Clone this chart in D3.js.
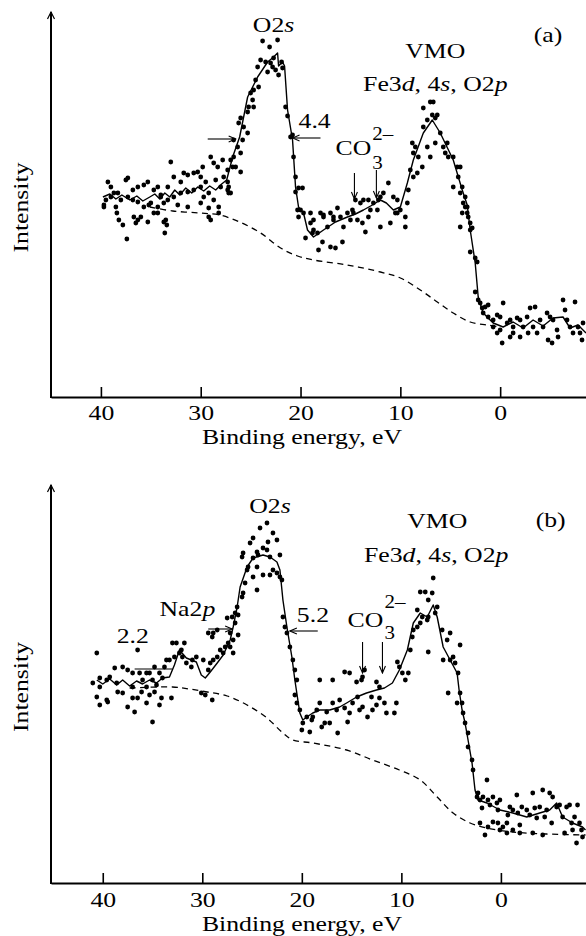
<!DOCTYPE html>
<html>
<head>
<meta charset="utf-8">
<script src="https://cdn.jsdelivr.net/npm/d3@7"></script>
<style>
  body { margin: 0; background: #fff; }
  svg text { font-family: "Liberation Serif", "Times New Roman", serif; fill: #000; }
</style>
</head>
<body>
<svg id="chart" width="586" height="936"></svg>
<script>
// ---- data: binding energy (eV), intensity (arb. units) ----
const energyTicks = [40, 30, 20, 10, 0];

// panel (a)
const fitA = [[39.8,200],[39.1,203],[38.5,198],[37.9,202],[37.1,197],[36.4,201],[35.8,196],[35.1,200],[34.6,203],[34.1,198],[33.6,204],[33.1,200],[32.6,207],[32.1,202],[31.5,209],[30.9,204],[30.3,210],[29.7,206],[29.1,211],[28.5,207],[27.9,213],[27.4,217],[26.8,240],[26.1,260],[25.3,300],[24.3,320],[23.3,335],[22.7,340],[22.3,344],[22.2,331],[21.8,335],[21.6,331],[21.3,287],[20.8,257],[20.5,210],[20.2,190],[19.7,184],[19.3,167],[18.7,160],[17.7,167],[16.5,175],[15.3,180],[14.5,183],[13.7,187],[12.8,192],[12.0,197],[11.4,194],[10.7,187],[10.0,190],[9.3,214],[8.7,237],[7.7,264],[6.8,277],[6.0,264],[4.7,237],[3.8,207],[3.3,192],[3.0,167],[2.5,134],[2.2,100],[1.7,84],[0.7,74],[-0.3,70],[-1.3,75],[-2.3,69],[-3.3,77],[-4.3,71],[-5.3,79],[-6.3,80],[-7.0,69],[-7.8,72],[-8.6,64]];

const backgroundA = [[35.1,190],[32.8,186],[30.1,184],[28.1,182],[26.1,175],[24.0,164],[22.0,149],[20.3,141],[18.7,137],[15.3,132],[12.0,125],[10.0,119],[8.0,107],[6.3,95],[4.7,84],[3.0,75],[1.3,72],[0.0,70]];

const pointsA = [
[23.8,356],[23.1,350],[22.3,357],[24.0,337],[23.5,335],[23.0,334],[23.3,325],[22.8,330],[22.5,327],[22.2,322],[21.8,329],[21.9,335],[22.7,339],[24.3,330],[24.5,317],[24.2,310],[24.7,307],[25.0,304],[24.8,297],[25.2,290],[25.3,285],[24.7,290],
[26.0,279],[26.2,274],[25.7,270],[25.3,264],[26.7,257],[26.3,250],[26.7,240],[27.0,237],[25.8,257],[26.0,244],[26.5,230],[26.8,230],[27.3,227],[27.7,220],[27.3,215],[27.0,204],[26.0,225],[27.2,210],[28.0,210],[28.7,234],[29.0,240],[29.8,230],[28.3,230],[27.8,237],[28.5,217],[29.2,204],[29.7,200],[28.7,197],
[39.3,215],[39.0,210],[38.7,204],[37.5,217],[37.3,219],[36.8,207],[36.3,210],[35.7,212],[35.3,215],[34.7,207],[34.3,210],[34.0,202],[33.3,210],[33.0,235],[32.7,220],[32.0,215],[31.7,224],[31.3,222],[30.7,224],[30.3,225],[30.0,220],[29.5,215],[30.0,210],[30.7,207],[31.3,205],[32.0,204],[32.7,200],[33.3,197],[33.7,194],[34.3,190],[35.0,194],[35.7,190],[36.3,195],[36.8,197],[37.3,200],[38.0,197],[38.3,204],[39.0,200],[39.5,197],[39.7,192],[38.5,190],[36.7,180],[36.3,177],[35.2,192],[34.7,184],[33.5,177],[30.0,194],[29.2,189],[28.2,184],[38.2,177],[34.0,200],
[39.7,190],[38.4,184],[37.8,172],[37.4,158],[36.5,174],[36.0,180],[35.3,175],[33.7,175],[33.4,172],[33.6,164],[34.3,184],[32.3,192],[31.3,190],[29.2,180],[29.0,177],[28.2,190],[27.3,207],[27.2,204],
[21.5,290],[21.3,281],[21.0,260],[20.8,262],[20.7,240],[20.5,220],[20.2,209],[19.8,209],[20.5,205],[20.3,187],[20.2,180],[20.0,187],[19.7,184],[19.0,184],[18.7,177],[18.0,184],[17.7,180],[17.0,184],[16.7,180],[16.0,180],[15.3,184],[14.8,187],[14.5,197],[14.0,194],[13.7,197],[13.2,197],[12.7,194],[12.2,197],[12.0,200],[11.7,204],[11.2,214],[10.7,200],[10.3,197],[10.3,184],[9.3,194],[9.5,180],
[9.0,227],[8.7,220],[8.3,224],[8.5,250],[8.7,244],[8.8,254],[8.2,240],[7.8,230],[7.0,240],[7.3,250],[7.7,270],[7.3,277],[6.8,282],[6.5,279],[6.3,282],[7.7,289],[7.0,295],[6.7,295],[6.5,254],[6.0,264],[5.7,250],[5.5,244],[5.3,254],[5.2,240],[4.7,240],[4.3,230],[4.0,230],[4.2,220],[3.8,210],[3.5,200],[3.7,194],[3.3,190],[3.2,180],[3.0,174],
[4.7,210],[4.0,204],[3.5,190],[3.8,184],[3.3,184],[4.0,170],[3.0,167],[2.8,169],[3.0,145],[2.5,139],[2.3,135],[2.5,105],[2.2,97],[2.0,94],[1.8,89],[1.5,90],[1.2,92],[1.7,84],[1.2,80],[0.7,77],[0.3,82],[0.0,80],[-0.3,94],[0.7,70],[0.3,64],[0.0,67],[-0.2,54],[-0.7,74],[-1.0,77],[-1.3,70],[-1.7,79],[-2.0,77],[-2.3,70],[-2.7,80],[-3.0,89],[-3.5,90],[-3.3,70],[-3.7,64],[-4.0,77],[-4.3,70],[-4.7,84],[-5.0,80],[-5.3,77],[-5.7,67],[-5.8,60],[-6.3,97],[-6.5,87],[-6.7,77],[-7.0,70],[-7.5,95],[-7.3,64],[-7.8,70],[-8.0,64],[-8.2,57],[-8.3,74],[-1.3,64],[-2.0,60],[-1.0,60],[-2.8,64],[-4.8,57],[-5.2,54],
[19.5,159],[19.0,174],[18.8,164],[18.7,167],[18.3,164],[18.2,147],[17.7,182],[17.8,155],[17.3,170],[17.0,150],[16.7,177],[16.5,149],[16.3,189],[15.8,155],[15.7,170],[15.0,177],[14.7,184],[14.3,177],[13.8,174],[13.5,165],[13.2,180],[13.0,187],[12.3,187],[12.0,170],[11.0,174],[10.5,184],[10.0,187],[9.5,170],[9.2,207]
];

// panel (b)
const fitB = [[40.6,203],[40.0,199],[39.3,204],[38.6,198],[38.0,203],[37.3,197],[36.6,202],[36.0,199],[35.3,203],[34.6,200],[34.0,205],[33.3,206],[32.8,218],[32.3,233],[31.6,225],[30.6,221],[30.1,208],[29.7,205],[29.2,211],[28.5,220],[27.9,228],[27.2,243],[26.9,256],[26.5,276],[26.2,296],[25.5,316],[24.9,325],[23.9,328],[23.2,326],[22.5,321],[22.2,313],[21.9,283],[21.5,256],[21.0,226],[20.7,203],[20.4,183],[20.2,170],[19.9,163],[19.5,166],[18.9,170],[18.2,173],[17.2,173],[16.2,176],[15.5,180],[14.5,186],[13.5,190],[12.5,193],[11.7,195],[10.9,200],[10.2,213],[9.4,233],[8.8,260],[8.1,270],[7.4,266],[6.8,278],[6.4,266],[5.8,236],[5.1,223],[4.4,210],[4.2,193],[3.9,173],[3.6,160],[3.3,143],[2.9,120],[2.6,93],[2.3,83],[1.4,80],[0.1,73],[-1.2,70],[-2.6,66],[-3.9,70],[-4.9,73],[-5.6,80],[-6.2,66],[-7.2,60],[-8.2,56],[-8.5,53]];

const backgroundB = [[37.3,195],[33.0,196],[31.3,194],[29.5,191],[27.5,187],[25.5,178],[23.5,165],[21.9,150],[20.9,143],[18.9,140],[15.5,133],[12.9,123],[10.2,113],[8.1,103],[6.4,86],[4.8,70],[3.1,60],[1.4,55],[-1.2,51],[-4.6,49],[-8.5,48]];

const pointsB = [
[23.5,360],[24.2,355],[22.9,350],[24.9,345],[23.4,341],[22.5,343],[25.2,340],[23.9,335],[24.5,331],[23.5,333],[24.4,328],[25.9,330],[26.0,326],[24.9,325],[23.2,326],[22.2,328],[25.4,316],[24.5,316],[25.5,313],[23.9,308],[23.2,308],[22.9,313],[22.5,310],[22.2,306],[22.0,303],[24.5,293],[24.9,306],[25.7,300],[25.9,290],[26.0,286],
[26.5,276],[26.7,270],[26.4,268],[27.0,266],[26.7,260],[27.5,265],[27.2,250],[26.4,248],[26.9,243],[27.4,240],[27.7,236],[27.2,236],[26.9,230],[27.9,230],[28.2,233],[28.5,226],[28.9,223],[29.2,220],[29.4,213],[29.9,223],[28.9,250],[28.5,253],[29.4,250],[29.0,246],
[30.6,226],[31.0,223],[31.1,216],[31.6,220],[32.0,226],[32.1,233],[32.3,230],[32.6,240],[31.8,240],[33.0,240],[32.8,226],[33.3,223],[33.6,223],[33.8,216],[34.3,210],[34.8,216],[35.3,210],[35.6,210],[36.0,203],[36.3,210],[37.0,210],[37.5,213],[38.0,216],[38.8,215],[39.3,206],[39.6,203],[40.3,205],[40.6,230],[36.5,233],[35.0,203],[34.0,205],[38.6,200],[37.0,196],[35.6,196],[34.6,198],[40.3,196],[41.0,200],
[21.9,266],[21.7,256],[21.5,250],[21.2,236],[20.9,223],[20.7,213],[20.5,203],
[40.6,186],[40.3,178],[39.6,183],[39.5,181],[38.5,191],[38.0,190],[37.5,176],[37.0,185],[36.8,171],[36.5,185],[36.1,191],[35.6,180],[35.3,188],[35.0,161],[34.8,191],[34.3,178],[34.1,185],[33.1,185],[30.1,190],[29.7,188],[29.0,183],
[18.2,203],[16.9,203],[15.7,211],[15.2,210],[14.5,201],[13.9,206],[13.7,213],[14.0,203],[12.5,201],[12.2,196],[10.4,221],[10.2,216],[9.9,210],[9.6,203],[9.3,210],[9.1,233],[8.9,246],[8.8,253],[8.4,256],[8.1,260],[7.9,266],[7.4,263],[8.1,291],[7.6,291],[7.3,283],[6.9,290],[6.8,305],[6.4,276],[6.6,270],[7.3,231],[5.9,253],[5.4,243],[5.1,250],[5.8,223],[5.1,223],[4.8,226],[4.6,220],[4.1,238],[4.3,210],[7.3,266],[8.4,273],
[20.7,188],[20.5,180],[20.2,173],[19.9,160],[20.0,153],[19.5,166],[19.2,151],[19.0,163],[18.9,166],[18.5,173],[18.2,180],[18.0,156],[17.7,160],[17.5,171],[17.2,160],[16.9,180],[16.5,173],[16.4,150],[16.2,183],[15.7,175],[15.4,161],[15.2,170],[14.9,180],[14.4,186],[14.2,173],[13.9,176],[13.4,166],[13.0,186],[12.9,173],[12.5,178],[12.2,185],[11.5,170],[10.7,170],[10.5,180],[11.7,180],
[5.3,190],[4.1,190],[4.4,180],[3.9,180],[3.8,170],[3.6,160],[3.3,150],[3.3,136],[2.9,123],[2.8,113],[2.4,86],[2.3,90],[2.1,83],[1.9,75],[1.8,86],[1.4,103],[1.3,83],[1.1,78],[0.8,86],[0.4,80],[0.3,73],[0.1,83],[2.1,60],[1.6,48],[1.3,56],[0.8,61],[0.3,60],[0.1,53],[-0.2,56],[-0.6,60],[-0.7,68],[-0.9,76],[-1.2,73],[-1.6,88],[-1.7,70],[-1.9,58],[-2.1,76],[-2.6,73],[-2.9,68],[-3.2,90],[-3.4,75],[-3.6,65],[-3.9,76],[-4.2,93],[-4.4,66],[-4.6,73],[-4.9,90],[-5.1,60],[-5.2,86],[-5.6,76],[-5.9,78],[-6.2,66],[-6.4,50],[-6.6,76],[-6.9,78],[-7.1,60],[-7.2,53],[-7.4,66],[-7.6,40],[-7.7,78],[-7.9,60],[-8.1,53],[-8.2,46],[-1.2,53],[-0.6,50],[-1.9,50],[-3.2,50],[-4.2,48]
];

// annotation texts, arrows and markers, in data coordinates
const labelsA = [
  { e: 22.7, i: 365, anchor: "middle", parts: [["O2"], ["s", "i"]] },
  { e: 6.5, i: 339, anchor: "middle", parts: [["VMO"]] },
  { e: 6.5, i: 306, anchor: "middle", parts: [["Fe3"], ["d", "i"], [", 4"], ["s", "i"], [", O2"], ["p", "i"]] },
  { e: -4.8, i: 355, anchor: "middle", parts: [["(a)"]] },
  { e: 20.2, i: 269, anchor: "start", parts: [["4.4"]] }
];
const arrowsA = [
  { from: [18.0, 259], to: [20.8, 259] },
  { from: [29.3, 258], to: [26.5, 258] },
  { from: [14.6, 224], to: [14.6, 198] },
  { from: [12.4, 227], to: [12.4, 199] }
];
const carbonateA = { e: 16.5, i: 242, subDy: 14, supDy: -15 };
const segmentsA = [];

const labelsB = [
  { e: 23.2, i: 370, anchor: "middle", parts: [["O2"], ["s", "i"]] },
  { e: 6.4, i: 355, anchor: "middle", parts: [["VMO"]] },
  { e: 6.5, i: 321, anchor: "middle", parts: [["Fe3"], ["d", "i"], [", 4"], ["s", "i"], [", O2"], ["p", "i"]] },
  { e: -5.0, i: 356, anchor: "middle", parts: [["(b)"]] },
  { e: 20.5, i: 261, anchor: "start", parts: [["5.2"]] },
  { e: 34.3, i: 267, anchor: "start", parts: [["Na2"], ["p", "i"]] },
  { e: 38.6, i: 240, anchor: "start", parts: [["2.2"]] }
];
const arrowsB = [
  { from: [18.4, 252], to: [21.2, 252] },
  { from: [29.4, 254], to: [27.0, 254] },
  { from: [13.9, 241], to: [13.9, 210] },
  { from: [11.9, 241], to: [11.9, 210] }
];
const carbonateB = { e: 15.4, i: 256, subDy: 12, supDy: -19 };
const segmentsB = [{ from: [36.8, 214], to: [33.0, 214] }];

// ---- drawing ----
const svg = d3.select("#chart");
const FONT = 22;
const STRETCH = 1.17; // typeface is set slightly wide

const defs = svg.append("defs");
defs.append("marker")
  .attr("id", "head")
  .attr("viewBox", "-8 -4 9 8")
  .attr("refX", 0).attr("refY", 0)
  .attr("markerWidth", 9).attr("markerHeight", 8)
  .attr("markerUnits", "userSpaceOnUse")
  .attr("orient", "auto")
  .append("path")
  .attr("d", "M-7,-3L0,0L-7,3")
  .attr("fill", "none").attr("stroke", "#000").attr("stroke-width", 1.1);

function stretchedText(g, x, y, anchor, parts, size) {
  const t = g.append("text")
    .attr("transform", `translate(${x},${y}) scale(${STRETCH},1)`)
    .attr("text-anchor", anchor)
    .attr("font-size", size || FONT);
  parts.forEach(p => {
    t.append("tspan").text(p[0]).attr("font-style", p[1] === "i" ? "italic" : "normal");
  });
  return t;
}

function drawPanel(cfg) {
  const x = d3.scaleLinear().domain(cfg.xDomain).range([51, 586]);
  const y = d3.scaleLinear().domain([0, cfg.yMax]).range([cfg.base, cfg.top]);
  const g = svg.append("g");

  // background (dashed)
  g.append("path")
    .datum(cfg.background)
    .attr("fill", "none").attr("stroke", "#000")
    .attr("stroke-width", 1.3).attr("stroke-dasharray", "6,4.5")
    .attr("d", d3.line().x(d => x(d[0])).y(d => y(d[1])).curve(d3.curveCatmullRom));

  // smoothed spectrum
  g.append("path")
    .datum(cfg.fit)
    .attr("fill", "none").attr("stroke", "#000").attr("stroke-width", 1.4)
    .attr("stroke-linejoin", "round")
    .attr("d", d3.line().x(d => x(d[0])).y(d => y(d[1])));

  // measured points
  g.append("g").selectAll("circle")
    .data(cfg.points)
    .join("circle")
    .attr("cx", d => x(d[0])).attr("cy", d => y(d[1]))
    .attr("r", 2.4).attr("fill", "#000");

  // x axis with inward ticks
  const ax = g.append("g")
    .attr("transform", `translate(0,${cfg.base})`)
    .call(d3.axisBottom(x).tickValues(energyTicks).tickFormat(d3.format("d"))
      .tickSizeInner(-10).tickSizeOuter(0).tickPadding(cfg.tickPad));
  ax.select(".domain").attr("stroke-width", 2);
  ax.selectAll(".tick line").attr("stroke-width", 1.6);
  ax.selectAll(".tick text")
    .attr("font-size", FONT)
    .attr("font-family", null)
    .attr("transform", `scale(${STRETCH},1)`);

  // y axis with arrow
  const yTop = y(cfg.yMax);
  g.append("line")
    .attr("x1", 51).attr("x2", 51)
    .attr("y1", cfg.base + 1).attr("y2", yTop)
    .attr("stroke", "#000").attr("stroke-width", 2);
  g.append("path")
    .attr("d", `M47.5,${yTop + 7}L51,${yTop}L54.5,${yTop + 7}`)
    .attr("fill", "none").attr("stroke", "#000").attr("stroke-width", 1.2);

  // axis titles
  stretchedText(g, 302, cfg.base + cfg.titleOffset, "middle", [["Binding energy, eV"]]);
  g.append("text")
    .attr("transform", `translate(28,${(cfg.base + yTop) / 2 + 3}) rotate(-90) scale(${STRETCH},1)`)
    .attr("text-anchor", "middle")
    .attr("font-size", FONT)
    .text("Intensity");

  // labels
  cfg.labels.forEach(l => stretchedText(g, x(l.e), y(l.i), l.anchor, l.parts));

  // arrows
  cfg.arrows.forEach(a => {
    g.append("line")
      .attr("x1", x(a.from[0])).attr("y1", y(a.from[1]))
      .attr("x2", x(a.to[0])).attr("y2", y(a.to[1]))
      .attr("stroke", "#000").attr("stroke-width", 1.1)
      .attr("marker-end", "url(#head)");
  });
  cfg.segments.forEach(s => {
    g.append("line")
      .attr("x1", x(s.from[0])).attr("y1", y(s.from[1]))
      .attr("x2", x(s.to[0])).attr("y2", y(s.to[1]))
      .attr("stroke", "#000").attr("stroke-width", 1.1);
  });

  // CO3 2- label
  const c = cfg.carbonate;
  const cx0 = x(c.e), cy0 = y(c.i);
  const co = stretchedText(g, cx0, cy0, "start", [["CO"]]);
  const w = co.node().getComputedTextLength() * STRETCH;
  stretchedText(g, cx0 + w + 1, cy0 + c.subDy, "start", [["3"]], 18);
  stretchedText(g, cx0 + w + 1, cy0 + c.supDy, "start", [["2–"]], 18);
}

drawPanel({
  xDomain: [45, -8.6], yMax: 385, base: 397, top: 12,
  tickPad: 7, titleOffset: 47,
  fit: fitA, background: backgroundA, points: pointsA,
  labels: labelsA, arrows: arrowsA, segments: segmentsA, carbonate: carbonateA
});
drawPanel({
  xDomain: [45.2, -8.55], yMax: 398, base: 883, top: 485,
  tickPad: 8, titleOffset: 48,
  fit: fitB, background: backgroundB, points: pointsB,
  labels: labelsB, arrows: arrowsB, segments: segmentsB, carbonate: carbonateB
});
</script>
</body>
</html>
